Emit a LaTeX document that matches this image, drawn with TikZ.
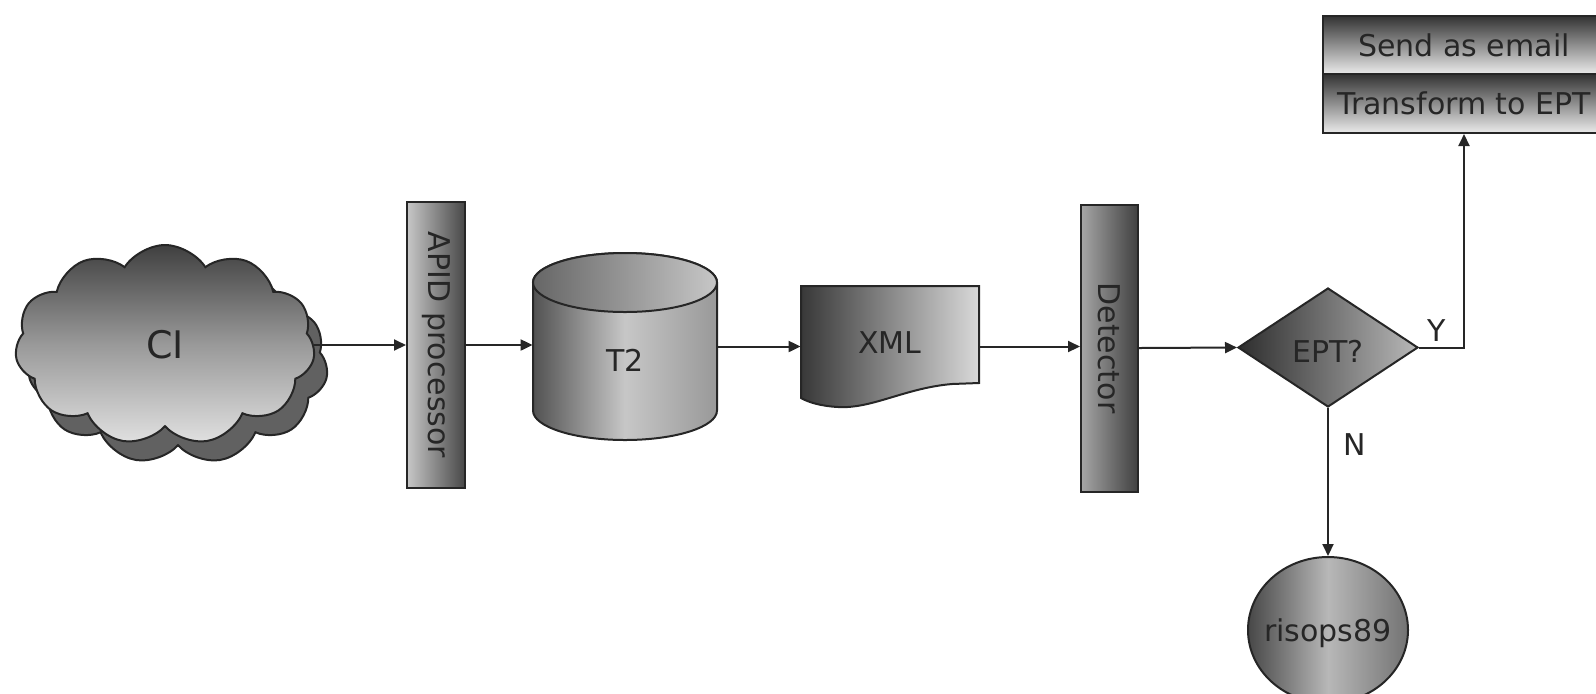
\documentclass[tikz,border=0pt]{standalone}
\usepackage{fontspec}
\setmainfont{DejaVu Sans}
\usetikzlibrary{shapes.geometric,shapes.symbols,arrows.meta}

% set a label with no height or depth, lowered by #1
\newcommand{\dropped}[2]{\raisebox{-#1}[0pt][0pt]{#2}}

\begin{document}
\begin{tikzpicture}[x=0.5pt,y=0.5pt,
  every node/.style={font=\fontsize{15}{18}\selectfont, text=black!85},
  outline/.style={draw=black!85, line width=1pt},
  arr/.style={draw=black!85, line width=1pt, -{Triangle[length=6pt,width=5.5pt]}},
  cloudbox/.style={cloud, cloud puffs=11, cloud puff arc=115, cloud ignores aspect,
    minimum width=150pt, minimum height=100pt, inner sep=0pt, outline},
  bar/.style={rectangle, outline, left color=black!22, right color=black!72, inner sep=0pt},
  ghost/.style={rectangle, inner sep=0pt},
  rowbox/.style={rectangle, outline, top color=black!80, bottom color=black!8,
    minimum width=141pt, inner sep=0pt},
  lbl/.style={inner sep=1pt, font=\fontsize{15}{18}\selectfont}
]
\clip (0,0) rectangle (1596,-693);

% cloud source with its drop shadow
\node[cloudbox, fill=black!62] (cishadow) at (178,-364) {};
\node[cloudbox, top color=black!75, bottom color=black!12, middle color=black!40,
  font=\fontsize{19}{22}\selectfont] (ci) at (165,-345) {CI};

% processing bars
\node[bar, minimum width=29pt, minimum height=143pt] (apid) at (436,-345)
  {\rotatebox{-90}{APID processor}};
\node[bar, left color=black!35, right color=black!75, minimum width=28.5pt,
  minimum height=143.5pt] (det) at (1109.5,-348) {\rotatebox{-90}{Detector}};

% T2 storage cylinder
\shade[outline, left color=black!68, right color=black!40, middle color=black!22]
  (533,-282.5) -- (533,-410.5)
  arc[start angle=180, end angle=360, x radius=92, y radius=29.5]
  -- (717,-282.5)
  arc[start angle=0, end angle=180, x radius=92, y radius=29.5] -- cycle;
\shade[outline, left color=black!60, right color=black!22]
  (625,-282.5) ellipse[x radius=92, y radius=29.5];
\node[ghost, minimum width=92pt, minimum height=93.5pt] (t2) at (625,-346.5)
  {\dropped{12.25pt}{T2}};

% XML document
\shade[outline, left color=black!78, right color=black!15]
  (801,-286) -- (979,-286) -- (979,-383) -- (952,-384)
  .. controls (905,-388) and (872,-409) .. (838,-407)
  .. controls (820,-406) and (808,-402) .. (801,-398) -- cycle;
\node[ghost, minimum width=89pt, minimum height=60.5pt] (xml) at (890,-346.5)
  {\dropped{3.25pt}{XML}};

% decision
\node[diamond, outline, left color=black!82, right color=black!28, inner sep=0pt,
  minimum width=90pt, minimum height=59.5pt] (ept) at (1328,-347.5)
  {\dropped{7.5pt}{EPT?}};

% output actions
\node[rowbox, minimum height=29pt] (send) at (1464,-45) {Send as email};
\node[rowbox, minimum height=29.5pt] (trans) at (1464,-103.5) {Transform to EPT};

% destination
\node[ellipse, outline, left color=black!72, right color=black!55, middle color=black!28,
  minimum width=80pt, minimum height=73pt, inner sep=0pt] (ris) at (1328,-630)
  {\makebox[0pt]{\dropped{5.5pt}{risops89}}};

% connectors
\draw[arr] (ci.east) -- (ci.east -| apid.west);
\draw[arr] (apid.east) -- (apid.east -| t2.west);
\draw[arr] (t2.east) -- (t2.east -| xml.west);
\draw[arr] (xml.east) -- (xml.east -| det.west);
\draw[arr] (det.east) -- (ept.west);
\draw[arr] (ept.east) -| node[lbl, pos=0.2, above=1.5pt] {Y} (trans.south);
\draw[arr] (ept.south) -- node[lbl, pos=0.25, right=6pt] {N} (ris.north);
\end{tikzpicture}
\end{document}
